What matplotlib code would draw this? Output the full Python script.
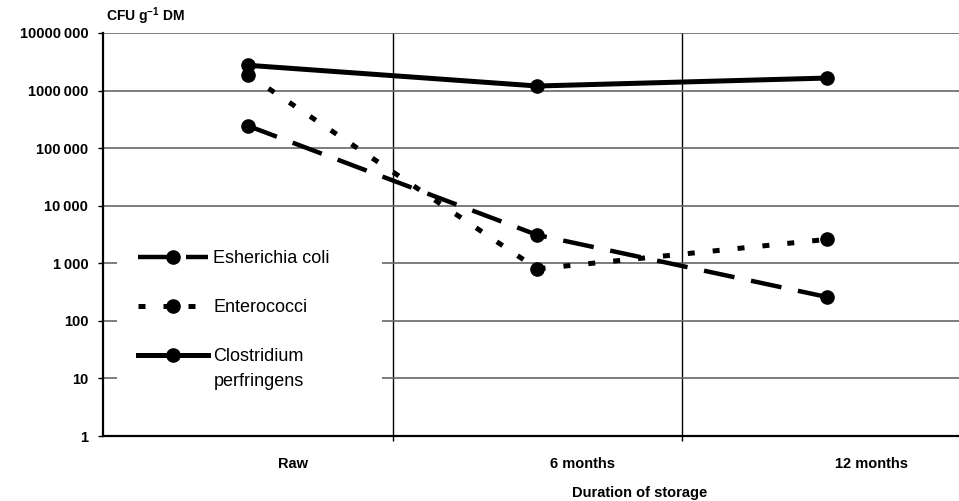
import matplotlib
matplotlib.use("Agg")
import matplotlib.pyplot as plt
import matplotlib.transforms as mtransforms
from matplotlib.patches import Rectangle

plt.rcParams['font.family'] = ['Liberation Sans', 'DejaVu Sans']
plt.rcParams['mathtext.fontset'] = 'custom'
plt.rcParams['mathtext.rm'] = 'Liberation Sans'
plt.rcParams['mathtext.bf'] = 'Liberation Sans:bold'

# data
stages = ['Raw', '6 months', '12 months']
e_coli = [245000, 3100, 260]
enterococci = [1900000, 800, 2600]
clostridium = [2750000, 1200000, 1650000]
y_ticks = [1, 10, 100, 1000, 10000, 100000, 1000000, 10000000]


def fmt(v):
    s = str(v)
    if len(s) > 3:
        s = s[:-3] + '\u2009' + s[-3:]
    return s


fig = plt.figure(figsize=(9.59, 5.01), dpi=100)
ax = fig.add_axes([103/959, 65/501, 868.5/959, 403/501])

x = list(range(len(stages)))
ax.plot(x, e_coli, color='black', lw=3.2, linestyle=(0, (7, 3.8)),
        marker='o', markersize=9.5, label='Esherichia coli', zorder=3)
ax.plot(x, enterococci, color='black', lw=3.6, linestyle=(0, (1.4, 3.6)),
        marker='o', markersize=9.5, label='Enterococci', zorder=3)
ax.plot(x, clostridium, color='black', lw=3.6, linestyle='-',
        marker='o', markersize=9.5, label='Clostridium', zorder=3)

ax.set_yscale('log')
ax.set_ylim(1, 10000000)
ax.set_xlim(-0.5, 2.5)
ax.set_yticks(y_ticks)
ax.set_yticklabels([fmt(v) for v in y_ticks])
ax.minorticks_off()
ax.set_xticks(x)
ax.set_xticklabels(stages)
ax.set_xticks([0.5, 1.5], minor=True)

ax.tick_params(axis='y', which='major', direction='out', length=3.6, width=1,
               pad=7, labelsize=10.5)
ax.tick_params(axis='x', which='major', length=0, pad=15, labelsize=10.5)
ax.tick_params(axis='x', which='minor', direction='out', length=3.6, width=1)
for lab in ax.get_yticklabels() + ax.get_xticklabels():
    lab.set_fontweight('bold')

# shift category labels to the right, as in the original
offset = mtransforms.ScaledTranslation(0.45, 0, fig.dpi_scale_trans)
for lab in ax.get_xticklabels():
    lab.set_transform(lab.get_transform() + offset)

ax.set_axisbelow(True)
ax.grid(axis='y', which='major', color='#666666', lw=1.2)
ax.grid(axis='x', which='minor', color='black', lw=1)

for s in ['top', 'right']:
    ax.spines[s].set_visible(False)
ax.spines['left'].set_linewidth(1.6)
ax.spines['bottom'].set_linewidth(1.6)

ax.set_xlabel('Duration of storage', fontsize=10.5, fontweight='bold')
ax.xaxis.set_label_coords(0.618, -0.141)
ax.xaxis.label.set_va('center')

fig.text(106/959, 1 - 16/501, r'CFU g$^{\mathbf{-1}}$ DM', fontsize=10,
         fontweight='bold', va='center', ha='left')

# white box behind the legend hides the gridlines
ax.add_patch(Rectangle((0.016, 0.07), 0.305, 0.45, transform=ax.transAxes,
                       facecolor='white', edgecolor='none', zorder=1))

leg = ax.legend(loc='upper left', bbox_to_anchor=(0.0403, 0.461),
                frameon=False, borderpad=0, borderaxespad=0,
                handlelength=3.9, handletextpad=0.28, labelspacing=1.78,
                fontsize=13)

fig.canvas.draw()
bb = leg.get_texts()[2].get_window_extent()
fig.text(bb.x0 / fig.bbox.width, (bb.y0 - 25) / fig.bbox.height, 'perfringens',
         fontsize=13, va='bottom', ha='left')

fig.savefig('out.png', dpi=100)
